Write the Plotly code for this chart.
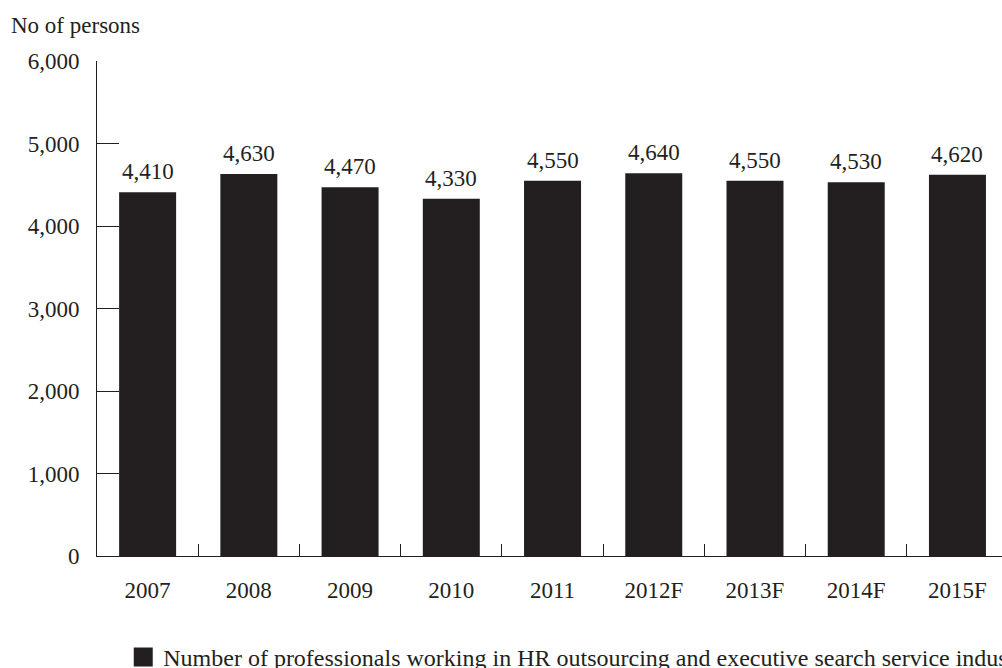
import plotly.graph_objects as go

categories = ["2007", "2008", "2009", "2010", "2011", "2012F", "2013F", "2014F", "2015F"]
values = [4410, 4630, 4470, 4330, 4550, 4640, 4550, 4530, 4620]
series_name = "Number of professionals working in HR outsourcing and executive search service industry"
y_title = "No of persons"
y_ticks = [0, 1000, 2000, 3000, 4000, 5000, 6000]

DARK = "#231f20"
FONT = "Liberation Serif, Times New Roman, serif"

fig = go.Figure()
fig.add_trace(go.Bar(
    x=categories, y=values, name=series_name,
    marker=dict(color=DARK, line=dict(width=0)),
    showlegend=False,
))
# legend entry (larger square swatch, as in the reference)
fig.add_trace(go.Scatter(
    x=[categories[0]], y=[None], name=series_name, mode="markers",
    marker=dict(symbol="square", size=16, color=DARK, line=dict(color=DARK, width=3)),
    showlegend=True, hoverinfo="skip",
))

for i, v in enumerate(values):
    fig.add_annotation(x=i, y=v, text=f"{v:,}", showarrow=False,
                       yanchor="bottom", yshift=6,
                       font=dict(family=FONT, size=23, color=DARK))

fig.add_annotation(xref="paper", yref="paper", x=-0.0975, y=1.071,
                   text=y_title, showarrow=False, xanchor="left", yanchor="middle",
                   font=dict(family=FONT, size=23, color=DARK))

fig.update_layout(
    width=1002, height=668,
    margin=dict(l=97, r=0, t=61, b=112, autoexpand=False),
    paper_bgcolor="white", plot_bgcolor="white",
    bargap=0.437,
    font=dict(family=FONT, size=23, color=DARK),
    showlegend=True,
    legend=dict(orientation="h", xref="container", yref="container",
                x=0.123, xanchor="left", y=0.016, yanchor="middle",
                font=dict(family=FONT, size=24, color=DARK),
                itemsizing="trace", itemwidth=30),
)
fig.update_xaxes(
    type="category",
    range=[-0.5, 8.44], showline=True, linecolor=DARK, linewidth=1,
    ticks="inside", tickson="boundaries", ticklen=12, tickcolor=DARK, tickwidth=1,
    showgrid=False, zeroline=False, ticklabelstandoff=13,
    tickfont=dict(family=FONT, size=23, color=DARK),
)
fig.update_yaxes(
    range=[0, 6000], tickvals=y_ticks, tickformat=",", showline=True, linecolor=DARK, linewidth=1,
    ticks="inside", ticklen=22, tickcolor=DARK, tickwidth=1,
    showgrid=False, zeroline=False, ticklabelstandoff=12,
    tickfont=dict(family=FONT, size=23, color=DARK),
)

fig.write_html("out.html", config={"displayModeBar": False},
               post_script="document.body.style.margin='0';document.body.style.overflow='hidden';")
